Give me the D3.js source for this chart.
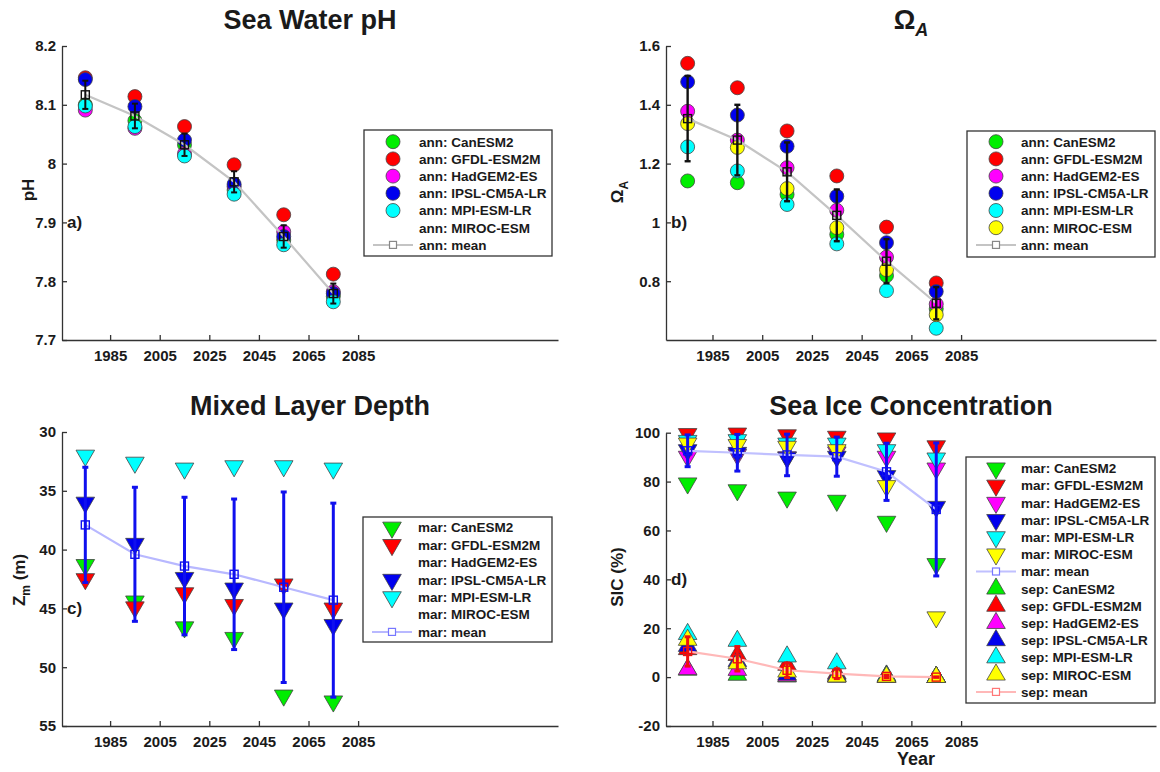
<!DOCTYPE html>
<html><head><meta charset="utf-8">
<script src="https://cdn.jsdelivr.net/npm/d3@7"></script>
<style>
body{margin:0;background:#fff}
text{font-family:"Liberation Sans",Arial,Helvetica,sans-serif;font-weight:bold;fill:#1a1a1a}
</style>
</head><body>
<svg id="chart" width="1160" height="772"></svg>
<script>
// ---------------- DATA ----------------
const years = [1975, 1995, 2015, 2035, 2055, 2075];
const xTicks = [1985, 2005, 2025, 2045, 2065, 2085];
const models = ["CanESM2", "GFDL-ESM2M", "HadGEM2-ES", "IPSL-CM5A-LR", "MPI-ESM-LR", "MIROC-ESM"];
const modelColors = ["#00ee00", "#ff0000", "#ff00ff", "#0000ee", "#00ffff", "#ffff00"];

// a) Sea water pH (annual)
const phTicks = [7.7, 7.8, 7.9, 8.0, 8.1, 8.2];
const phCan  = [8.100, 8.073, 8.032, 7.955, 7.870, 7.774];
const phGfdl = [8.146, 8.114, 8.063, 7.998, 7.913, 7.812];
const phHad  = [8.091, 8.060, 8.017, 7.961, 7.884, 7.782];
const phIpsl = [8.143, 8.097, 8.040, 7.965, 7.876, 7.779];
const phMpi  = [8.098, 8.063, 8.013, 7.948, 7.862, 7.765];
const phMiroc = null;
const phMean = [8.117, 8.081, 8.032, 7.969, 7.876, 7.779];
const phStd  = [0.024, 0.021, 0.019, 0.018, 0.019, 0.017];

// b) Omega aragonite (annual)
const omTicks = [0.8, 1.0, 1.2, 1.4, 1.6];
const omCan   = [1.141, 1.135, 1.095, 0.959, 0.819, 0.706];
const omGfdl  = [1.541, 1.458, 1.311, 1.158, 0.984, 0.794];
const omHad   = [1.378, 1.280, 1.186, 1.041, 0.882, 0.722];
const omIpsl  = [1.478, 1.365, 1.259, 1.089, 0.931, 0.765];
const omMpi   = [1.257, 1.175, 1.061, 0.927, 0.768, 0.640];
const omMiroc = [1.336, 1.255, 1.115, 0.982, 0.839, 0.686];
const omMean  = [1.353, 1.280, 1.172, 1.024, 0.868, 0.725];
const omStd   = [0.145, 0.120, 0.100, 0.088, 0.075, 0.055];

// c) Mixed layer depth (March)
const mldTicks = [30, 35, 40, 45, 50, 55];
const mldCan   = [41.3, 44.4, 46.6, 47.5, 52.4, 52.9];
const mldGfdl  = [42.5, 44.9, 43.7, 44.7, 42.95, 45.0];
const mldHad   = null;
const mldIpsl  = [36.0, 39.5, 42.4, 43.3, 45.0, 46.4];
const mldMpi   = [32.0, 32.6, 33.1, 32.9, 32.9, 33.1];
const mldMiroc = null;
const mldMean  = [37.9, 40.4, 41.4, 42.1, 43.2, 44.3];
const mldStd   = [4.9, 5.7, 5.85, 6.4, 8.1, 8.25];

// d) Sea ice concentration (March / September)
const sicTicks = [-20, 0, 20, 40, 60, 80, 100];
const sicMarCan   = [79.3, 76.5, 73.5, 72.2, 63.6, 46.3];
const sicMarGfdl  = [99.5, 99.7, 99.0, 98.4, 97.7, 94.5];
const sicMarHad   = [90.2, 91.0, 90.0, 92.0, 90.2, 85.4];
const sicMarIpsl  = [92.9, 91.8, 89.8, 90.2, 82.3, 69.7];
const sicMarMpi   = [96.7, 97.0, 95.6, 95.6, 92.9, 89.5];
const sicMarMiroc = [95.6, 95.0, 94.3, 92.9, 78.2, 24.5];
const sicMarMean  = [92.6, 91.8, 90.9, 90.2, 84.0, 68.6];
const sicMarStd   = [6.5, 7.5, 8.5, 8.0, 11.7, 27.2];
const sicSepCan   = [3.0, 0.9, 0.2, 0.2, 0.0, 0.0];
const sicSepGfdl  = [11.4, 9.0, 5.0, 1.5, 0.6, 0.0];
const sicSepHad   = [3.2, 2.9, 0.5, 0.2, 0.0, 0.0];
const sicSepIpsl  = [12.7, 6.5, 1.0, 0.9, 0.3, 0.0];
const sicSepMpi   = [17.6, 14.8, 8.4, 5.6, 0.5, 0.0];
const sicSepMiroc = [15.2, 5.6, 2.2, 0.2, 0.1, 0.0];
const sicSepMean  = [10.5, 7.5, 2.8, 1.4, 0.3, 0.0];
const sicSepStd   = [6.0, 5.0, 3.0, 2.0, 0.5, 0.0];

// ---------------- DRAWING ----------------
const svg = d3.select("#chart");
const triSize = 150;

function shapePath(shape) {
  return d3.symbol().type(d3.symbolTriangle).size(triSize)();
}

function drawMarker(g, shape, cx, cy, color) {
  if (shape === "circle") {
    g.append("circle").attr("cx", cx).attr("cy", cy).attr("r", 7)
      .attr("fill", color).attr("stroke", "#444").attr("stroke-width", 0.8);
  } else {
    const rot = shape === "down" ? 180 : 0;
    g.append("path").attr("d", shapePath(shape))
      .attr("transform", `translate(${cx},${cy}) rotate(${rot})`)
      .attr("fill", color).attr("stroke", "#444").attr("stroke-width", 0.8);
  }
}

function panel(o) {
  const g = svg.append("g");
  const x = d3.scaleLinear().domain(o.xDomain).range(o.xRange);
  const y = d3.scaleLinear().domain(o.yDomain).range(o.yRange);
  const bottom = Math.max(...o.yRange);
  const left = o.xRange[0];

  // axes
  const xa = g.append("g").attr("transform", `translate(0,${bottom})`)
    .call(d3.axisBottom(x).tickValues(xTicks).tickSize(-5).tickSizeOuter(0)
      .tickPadding(10).tickFormat(d3.format("d")));
  const ya = g.append("g").attr("transform", `translate(${left},0)`)
    .call(d3.axisLeft(y).tickValues(o.yTicks).tickSize(-5).tickSizeOuter(0)
      .tickPadding(6).tickFormat(d => String(+d.toFixed(2))));
  [xa, ya].forEach(a => {
    a.selectAll("path,line").attr("stroke", "#333").attr("stroke-width", 1.3);
    a.selectAll("text").style("font-size", "15px").attr("fill", "#1a1a1a");
  });

  // title
  const t = g.append("text").attr("x", (o.xRange[0] + o.xRange[1]) / 2).attr("y", 29)
    .attr("transform", `translate(0,${o.titleDy})`)
    .attr("text-anchor", "middle").style("font-size", "27px");
  o.title(t);

  // y label
  const yl = g.append("text").attr("transform", `translate(${o.yLabelX},${o.yLabelY}) rotate(-90)`)
    .attr("text-anchor", "middle").attr("dy", "0.35em").style("font-size", "17px");
  o.yLabel(yl);

  // panel letter
  g.append("text").attr("x", left + 5).attr("y", y(o.letterAt)).attr("dy", "0.35em")
    .style("font-size", "17px").text(o.letter);

  const plot = g.append("g");
  o.groups.forEach(grp => {
    grp.series.forEach((s, i) => {
      if (!s) return;
      s.forEach((v, j) => drawMarker(plot, grp.shape, x(years[j]), y(v), modelColors[i]));
    });
    const line = d3.line().x((d, j) => x(years[j])).y(d => y(d));
    plot.append("path").attr("d", line(grp.mean)).attr("fill", "none")
      .attr("stroke", grp.lineColor).attr("stroke-width", 2.2);
    grp.mean.forEach((m, j) => {
      const cx = x(years[j]);
      const y1 = y(m - grp.std[j]), y2 = y(m + grp.std[j]);
      plot.append("line").attr("x1", cx).attr("x2", cx).attr("y1", y1).attr("y2", y2)
        .attr("stroke", grp.errColor).attr("stroke-width", grp.errWidth);
      [y1, y2].forEach(yy => plot.append("line").attr("x1", cx - 3).attr("x2", cx + 3)
        .attr("y1", yy).attr("y2", yy).attr("stroke", grp.errColor).attr("stroke-width", grp.errWidth));
      plot.append("rect").attr("x", cx - 4).attr("y", y(m) - 4).attr("width", 8).attr("height", 8)
        .attr("fill", "none").attr("stroke", grp.errColor).attr("stroke-width", 1.4);
    });
  });

  // legend
  const L = o.legend;
  const lg = g.append("g");
  let rows = [];
  o.groups.forEach(grp => {
    models.forEach((m, i) => rows.push({ label: grp.prefix + ": " + m, kind: grp.series[i] ? grp.shape : "none", color: modelColors[i] }));
    rows.push({ label: grp.prefix + ": mean", kind: "mean", color: grp.lineColor, mark: grp.legendMark });
  });
  lg.append("rect").attr("x", L.x0).attr("y", L.y0).attr("width", L.x1 - L.x0).attr("height", L.y1 - L.y0)
    .attr("fill", "#fff").attr("stroke", "#333").attr("stroke-width", 1.3);
  rows.forEach((r, k) => {
    const ry = L.first + k * L.step;
    if (r.kind === "mean") {
      lg.append("line").attr("x1", L.mx - 20).attr("x2", L.mx + 20).attr("y1", ry).attr("y2", ry)
        .attr("stroke", r.color).attr("stroke-width", 2);
      lg.append("rect").attr("x", L.mx - 3.5).attr("y", ry - 3.5).attr("width", 7).attr("height", 7)
        .attr("fill", "#fff").attr("stroke", r.mark).attr("stroke-width", 1.2);
    } else if (r.kind !== "none") {
      drawMarker(lg, r.kind, L.mx, ry, r.color);
    }
    lg.append("text").attr("x", L.tx).attr("y", ry).attr("dy", "0.36em")
      .style("font-size", "13.5px").text(r.label);
  });
}

// a) pH
panel({
  xDomain: [1965.6, 2165.6], xRange: [62, 558],
  yDomain: [7.7, 8.2], yRange: [340, 46], yTicks: phTicks,
  title: t => t.text("Sea Water pH"), titleDy: 0,
  yLabel: t => t.text("pH"), yLabelX: 28, yLabelY: 190,
  letter: "a)", letterAt: 7.9,
  groups: [{ prefix: "ann", shape: "circle", series: [phCan, phGfdl, phHad, phIpsl, phMpi, phMiroc],
    mean: phMean, std: phStd, lineColor: "#c4c4c4", errColor: "#111", errWidth: 2, legendMark: "#888" }],
  legend: { x0: 364, y0: 130, x1: 552, y1: 256, first: 141.7, step: 17.2, mx: 393, tx: 419 }
});

// b) Omega_A
panel({
  xDomain: [1966.3, 2163.4], xRange: [666, 1156],
  yDomain: [0.6, 1.6], yRange: [340, 46], yTicks: omTicks,
  title: t => { t.append("tspan").text("Ω"); t.append("tspan").attr("dy", 7).style("font-size", "18px").style("font-style", "italic").text("A"); },
  titleDy: 0,
  yLabel: t => { t.append("tspan").text("Ω"); t.append("tspan").attr("dy", 5).style("font-size", "12px").text("A"); },
  yLabelX: 617, yLabelY: 192,
  letter: "b)", letterAt: 1.0,
  groups: [{ prefix: "ann", shape: "circle", series: [omCan, omGfdl, omHad, omIpsl, omMpi, omMiroc],
    mean: omMean, std: omStd, lineColor: "#c4c4c4", errColor: "#111", errWidth: 2.4, legendMark: "#888" }],
  legend: { x0: 967, y0: 131, x1: 1155, y1: 257, first: 141.7, step: 17.2, mx: 996, tx: 1021 }
});

// c) MLD
panel({
  xDomain: [1965.6, 2165.6], xRange: [62, 558],
  yDomain: [30, 55], yRange: [432, 726], yTicks: mldTicks,
  title: t => t.text("Mixed Layer Depth"), titleDy: 386,
  yLabel: t => { t.append("tspan").text("Z"); t.append("tspan").attr("dy", 5).style("font-size", "12px").text("m"); t.append("tspan").attr("dy", -5).text(" (m)"); },
  yLabelX: 19, yLabelY: 580,
  letter: "c)", letterAt: 45,
  groups: [{ prefix: "mar", shape: "down", series: [mldCan, mldGfdl, mldHad, mldIpsl, mldMpi, mldMiroc],
    mean: mldMean, std: mldStd, lineColor: "#b8b8ff", errColor: "#1010ee", errWidth: 3, legendMark: "#7777ff" }],
  legend: { x0: 363, y0: 517, x1: 552, y1: 642, first: 527.5, step: 17.4, mx: 392, tx: 418 }
});

// d) SIC
panel({
  xDomain: [1966.3, 2163.4], xRange: [666, 1156],
  yDomain: [-20, 100], yRange: [726, 432.7], yTicks: sicTicks,
  title: t => t.text("Sea Ice Concentration"), titleDy: 386,
  yLabel: t => t.text("SIC (%)"), yLabelX: 617, yLabelY: 577,
  letter: "d)", letterAt: 40,
  groups: [
    { prefix: "mar", shape: "down", series: [sicMarCan, sicMarGfdl, sicMarHad, sicMarIpsl, sicMarMpi, sicMarMiroc],
      mean: sicMarMean, std: sicMarStd, lineColor: "#c0c0ff", errColor: "#1010ee", errWidth: 3, legendMark: "#7777ff" },
    { prefix: "sep", shape: "up", series: [sicSepCan, sicSepGfdl, sicSepHad, sicSepIpsl, sicSepMpi, sicSepMiroc],
      mean: sicSepMean, std: sicSepStd, lineColor: "#ffb8b8", errColor: "#ee1010", errWidth: 3, legendMark: "#ff7777" }
  ],
  legend: { x0: 966, y0: 457, x1: 1155, y1: 703, first: 468.3, step: 17.2, mx: 996, tx: 1021 }
});

svg.append("text").attr("x", 916).attr("y", 765).attr("text-anchor", "middle")
  .style("font-size", "18px").text("Year");
</script>
</body></html>
